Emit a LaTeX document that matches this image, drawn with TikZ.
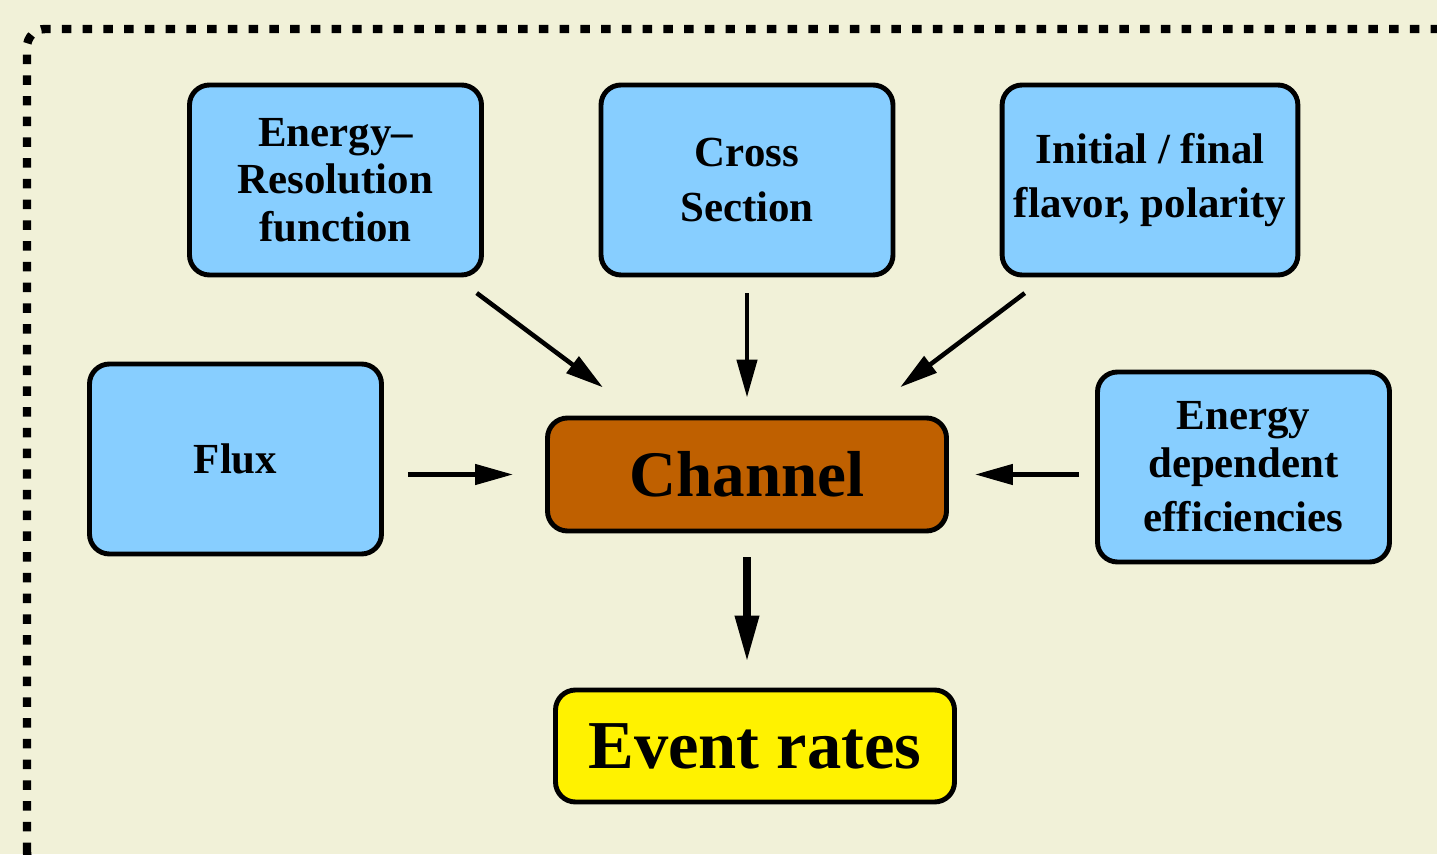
\documentclass[tikz,border=0pt]{standalone}
\usepackage{fontspec}
\setmainfont{Liberation Serif}
\usetikzlibrary{arrows.meta}

\definecolor{bgbeige}{RGB}{241,241,216}
\definecolor{parblue}{RGB}{135,206,255}
\definecolor{chanbrown}{RGB}{191,96,0}

\begin{document}
\begin{tikzpicture}
      \tikzset{
        node distance=2cm,
        box/.style={draw,line width=1.4pt,rounded corners=0.2cm,align=center},
        param/.style={box,fill=parblue,minimum width=2.92cm,minimum height=1.9cm,
                      font=\fontsize{12.2}{13.5}\selectfont\bfseries},
        chan/.style={box,fill=chanbrown,minimum width=3.99cm,minimum height=1.13cm,
                     font=\fontsize{18.5}{22}\selectfont\bfseries},
        rate/.style={box,fill=yellow,minimum width=3.99cm,minimum height=1.12cm,
                     font=\fontsize{19.5}{23}\selectfont\bfseries},
        arr/.style={-{Triangle[length=0.38cm,width=0.2cm]},line width=1.3pt}
      }

      % background and dotted frame
      \path[use as bounding box,fill=bgbeige] (0,0) rectangle (14.37,8.54);
      \draw[line width=2.4pt,dash pattern=on 2.7pt off 3.2pt,rounded corners=0.18cm]
            (0.27,-0.16) rectangle (14.55,8.25);

      \node[chan] (chan) at (7.47,3.795) {Channel};
      \node[param,above of=chan,node distance=2.945cm] (xsec) {Cross\\[2pt]Section};
      \node[param,left of=xsec,node distance=4.115cm] (eres) {Energy--\\Resolution\\function};
      \node[param,right of=xsec,node distance=4.03cm] (flav) {Initial / final\\[2pt]flavor, polarity};
      \node[param,left of=chan,node distance=5.115cm,yshift=0.155cm] (flux) {Flux};
      \node[param,right of=chan,node distance=4.965cm,yshift=0.075cm] (eff) {Energy\\dependent\\[2pt]efficiencies};
      \node[rate,below of=chan,node distance=2.715cm,xshift=0.08cm] (rate) {Event rates};

      \draw[arr,shorten <=0.26cm,shorten >=0.47cm] (eres.-39) -- (chan.151);
      \draw[arr,shorten <=0.16cm,shorten >=0.18cm] (xsec.south) -- (xsec.south |- chan.north);
      \draw[arr,shorten <=0.26cm,shorten >=0.47cm] (flav.-137) -- (chan.27);
      \draw[arr,shorten <=0.24cm,shorten >=0.32cm] (flux.east |- chan.west) -- (chan.west);
      \draw[arr,shorten <=0.16cm,shorten >=0.26cm] (eff.west |- chan.east) -- (chan.east);
      \draw[arr,line width=2pt,-{Triangle[length=0.46cm,width=0.23cm]},
            shorten <=0.24cm,shorten >=0.26cm] (chan.south) -- (chan.south |- rate.north);
    \end{tikzpicture}
\end{document}
